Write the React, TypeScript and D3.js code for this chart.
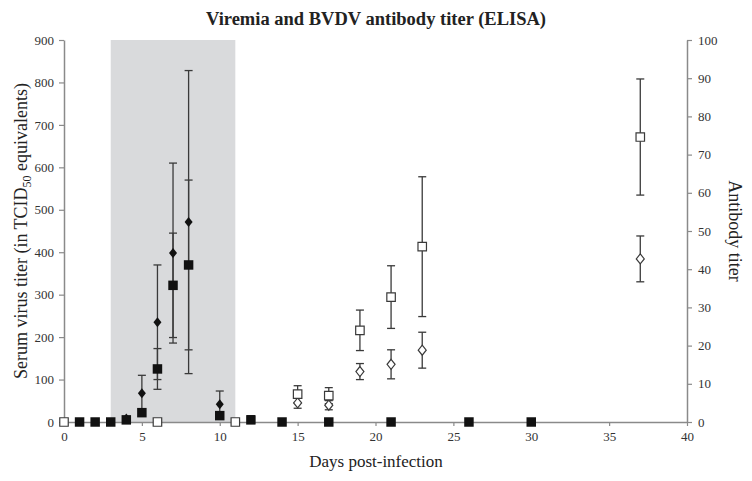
import React, { useEffect, useRef } from "react";
import * as d3 from "d3";

// virus titer, filled squares (left axis)
const virusDays = [1, 2, 3, 4, 5, 6, 7, 8, 10, 12, 14, 17, 21, 26, 30];
const virusMean = [0, 0, 0, 5, 22, 125, 322, 370, 15, 5, 0, 0, 0, 0, 0];
const virusErr = [0, 0, 0, 3, 8, 48, 123, 200, 8, 10, 0, 0, 0, 0, 0];

// virus titer, filled diamonds (left axis)
const virus2Days = [4, 5, 6, 7, 8, 10];
const virus2Mean = [8, 68, 235, 398, 471, 42];
const virus2Err = [5, 42, 135, 212, 357, 31];

// antibody titer, open squares (right axis)
const abDays = [0, 6, 11, 15, 17, 19, 21, 23, 37];
const abMean = [0, 0, 0, 7.3, 6.9, 24, 32.7, 45.9, 74.6];
const abErr = [0, 0, 0, 2.2, 2.1, 5.3, 8.2, 18.3, 15.2];

// antibody titer, open diamonds (right axis)
const ab2Days = [15, 17, 19, 21, 23, 37];
const ab2Mean = [5, 4.4, 13.2, 15.1, 18.8, 42.7];
const ab2Err = [1.4, 1.2, 2.1, 3.8, 4.7, 6];

const shadeRange = [3, 11];
const xTicks = [0, 5, 10, 15, 20, 25, 30, 35, 40];
const leftTicks = [0, 100, 200, 300, 400, 500, 600, 700, 800, 900];
const rightTicks = [0, 10, 20, 30, 40, 50, 60, 70, 80, 90, 100];

const App = () => {
  const svgRef = useRef(null);

  useEffect(() => {
    const width = 752;
    const height = 481;
    const margin = { top: 40, right: 65, bottom: 59, left: 64 };
    const font = "'Liberation Serif', 'Times New Roman', serif";
    const axisColor = "#8a8a8a";
    const barColor = "#3a3a3a";

    const svg = d3.select(svgRef.current).attr("width", width).attr("height", height);
    svg.selectAll("*").remove();

    const x = d3.scaleLinear().domain([0, 40]).range([margin.left, width - margin.right]);
    const yL = d3.scaleLinear().domain([0, 900]).range([height - margin.bottom, margin.top]);
    const yR = d3.scaleLinear().domain([0, 100]).range([height - margin.bottom, margin.top]);

    // shaded infection window
    svg
      .append("rect")
      .attr("x", x(shadeRange[0]))
      .attr("y", margin.top)
      .attr("width", x(shadeRange[1]) - x(shadeRange[0]))
      .attr("height", yL(0) - margin.top)
      .attr("fill", "#d9dadc");

    const styleAxis = (g) => {
      g.select(".domain").attr("stroke", axisColor).attr("stroke-width", 1.5);
      g.selectAll(".tick line").attr("stroke", axisColor).attr("stroke-width", 1.2);
      g.selectAll(".tick text").attr("fill", "#333").attr("font-family", font).attr("font-size", 13);
    };

    svg
      .append("g")
      .attr("transform", `translate(0,${yL(0)})`)
      .call(d3.axisBottom(x).tickValues(xTicks).tickSize(4).tickPadding(6).tickSizeOuter(0))
      .call(styleAxis);

    svg
      .append("g")
      .attr("transform", `translate(${margin.left},0)`)
      .call(d3.axisLeft(yL).tickValues(leftTicks).tickSize(5).tickPadding(5).tickSizeOuter(0))
      .call(styleAxis);

    svg
      .append("g")
      .attr("transform", `translate(${width - margin.right},0)`)
      .call(d3.axisRight(yR).tickValues(rightTicks).tickSize(5).tickPadding(6).tickSizeOuter(0))
      .call(styleAxis);

    const drawErrors = (days, mean, err, y) => {
      const g = svg.append("g").attr("stroke", barColor).attr("stroke-width", 1.3);
      days.forEach((d, i) => {
        if (!err[i]) return;
        const cx = x(d);
        const lo = y(Math.max(0, mean[i] - err[i]));
        const hi = y(mean[i] + err[i]);
        g.append("line").attr("x1", cx).attr("x2", cx).attr("y1", lo).attr("y2", hi);
        g.append("line").attr("x1", cx - 4).attr("x2", cx + 4).attr("y1", hi).attr("y2", hi);
        g.append("line").attr("x1", cx - 4).attr("x2", cx + 4).attr("y1", lo).attr("y2", lo);
      });
    };

    drawErrors(virusDays, virusMean, virusErr, yL);
    drawErrors(virus2Days, virus2Mean, virus2Err, yL);
    drawErrors(abDays, abMean, abErr, yR);
    drawErrors(ab2Days, ab2Mean, ab2Err, yR);

    const sq = d3.symbol().type(d3.symbolSquare);
    const dia = (s) => `M0,${-s}L${s * 0.8},0L0,${s}L${-s * 0.8},0Z`;

    svg
      .append("g")
      .selectAll("path")
      .data(ab2Days.map((d, i) => [d, ab2Mean[i]]))
      .join("path")
      .attr("transform", (d) => `translate(${x(d[0])},${yR(d[1])})`)
      .attr("d", dia(5))
      .attr("fill", "#fff")
      .attr("stroke", barColor)
      .attr("stroke-width", 1.2);

    svg
      .append("g")
      .selectAll("path")
      .data(abDays.map((d, i) => [d, abMean[i]]))
      .join("path")
      .attr("transform", (d) => `translate(${x(d[0])},${yR(d[1])})`)
      .attr("d", sq.size(72)())
      .attr("fill", "#fff")
      .attr("stroke", barColor)
      .attr("stroke-width", 1.2);

    svg
      .append("g")
      .selectAll("path")
      .data(virus2Days.map((d, i) => [d, virus2Mean[i]]))
      .join("path")
      .attr("transform", (d) => `translate(${x(d[0])},${yL(d[1])})`)
      .attr("d", dia(5))
      .attr("fill", "#111");

    svg
      .append("g")
      .selectAll("path")
      .data(virusDays.map((d, i) => [d, virusMean[i]]))
      .join("path")
      .attr("transform", (d) => `translate(${x(d[0])},${yL(d[1])})`)
      .attr("d", sq.size(90)())
      .attr("fill", "#111");

    // titles
    svg
      .append("text")
      .attr("x", 376)
      .attr("y", 25)
      .attr("text-anchor", "middle")
      .attr("font-family", font)
      .attr("font-size", 18.5)
      .attr("font-weight", "bold")
      .attr("fill", "#222")
      .text("Viremia and BVDV antibody titer (ELISA)");

    svg
      .append("text")
      .attr("x", 376)
      .attr("y", 467)
      .attr("text-anchor", "middle")
      .attr("font-family", font)
      .attr("font-size", 17)
      .attr("fill", "#222")
      .text("Days post-infection");

    const left = svg
      .append("text")
      .attr("transform", "translate(27,231) rotate(-90)")
      .attr("text-anchor", "middle")
      .attr("font-family", font)
      .attr("font-size", 18)
      .attr("fill", "#222");
    left.append("tspan").text("Serum virus titer (in TCID");
    left.append("tspan").attr("font-size", 12).attr("dy", 4).text("50");
    left.append("tspan").attr("dy", -4).text(" equivalents)");

    svg
      .append("text")
      .attr("transform", "translate(729,231) rotate(90)")
      .attr("text-anchor", "middle")
      .attr("font-family", font)
      .attr("font-size", 18)
      .attr("fill", "#222")
      .text("Antibody titer");
  }, []);

  return (
    <div style={{ position: "absolute", left: 0, top: 0, background: "#fff" }}>
      <svg ref={svgRef} style={{ display: "block" }} />
    </div>
  );
};

export default App;
